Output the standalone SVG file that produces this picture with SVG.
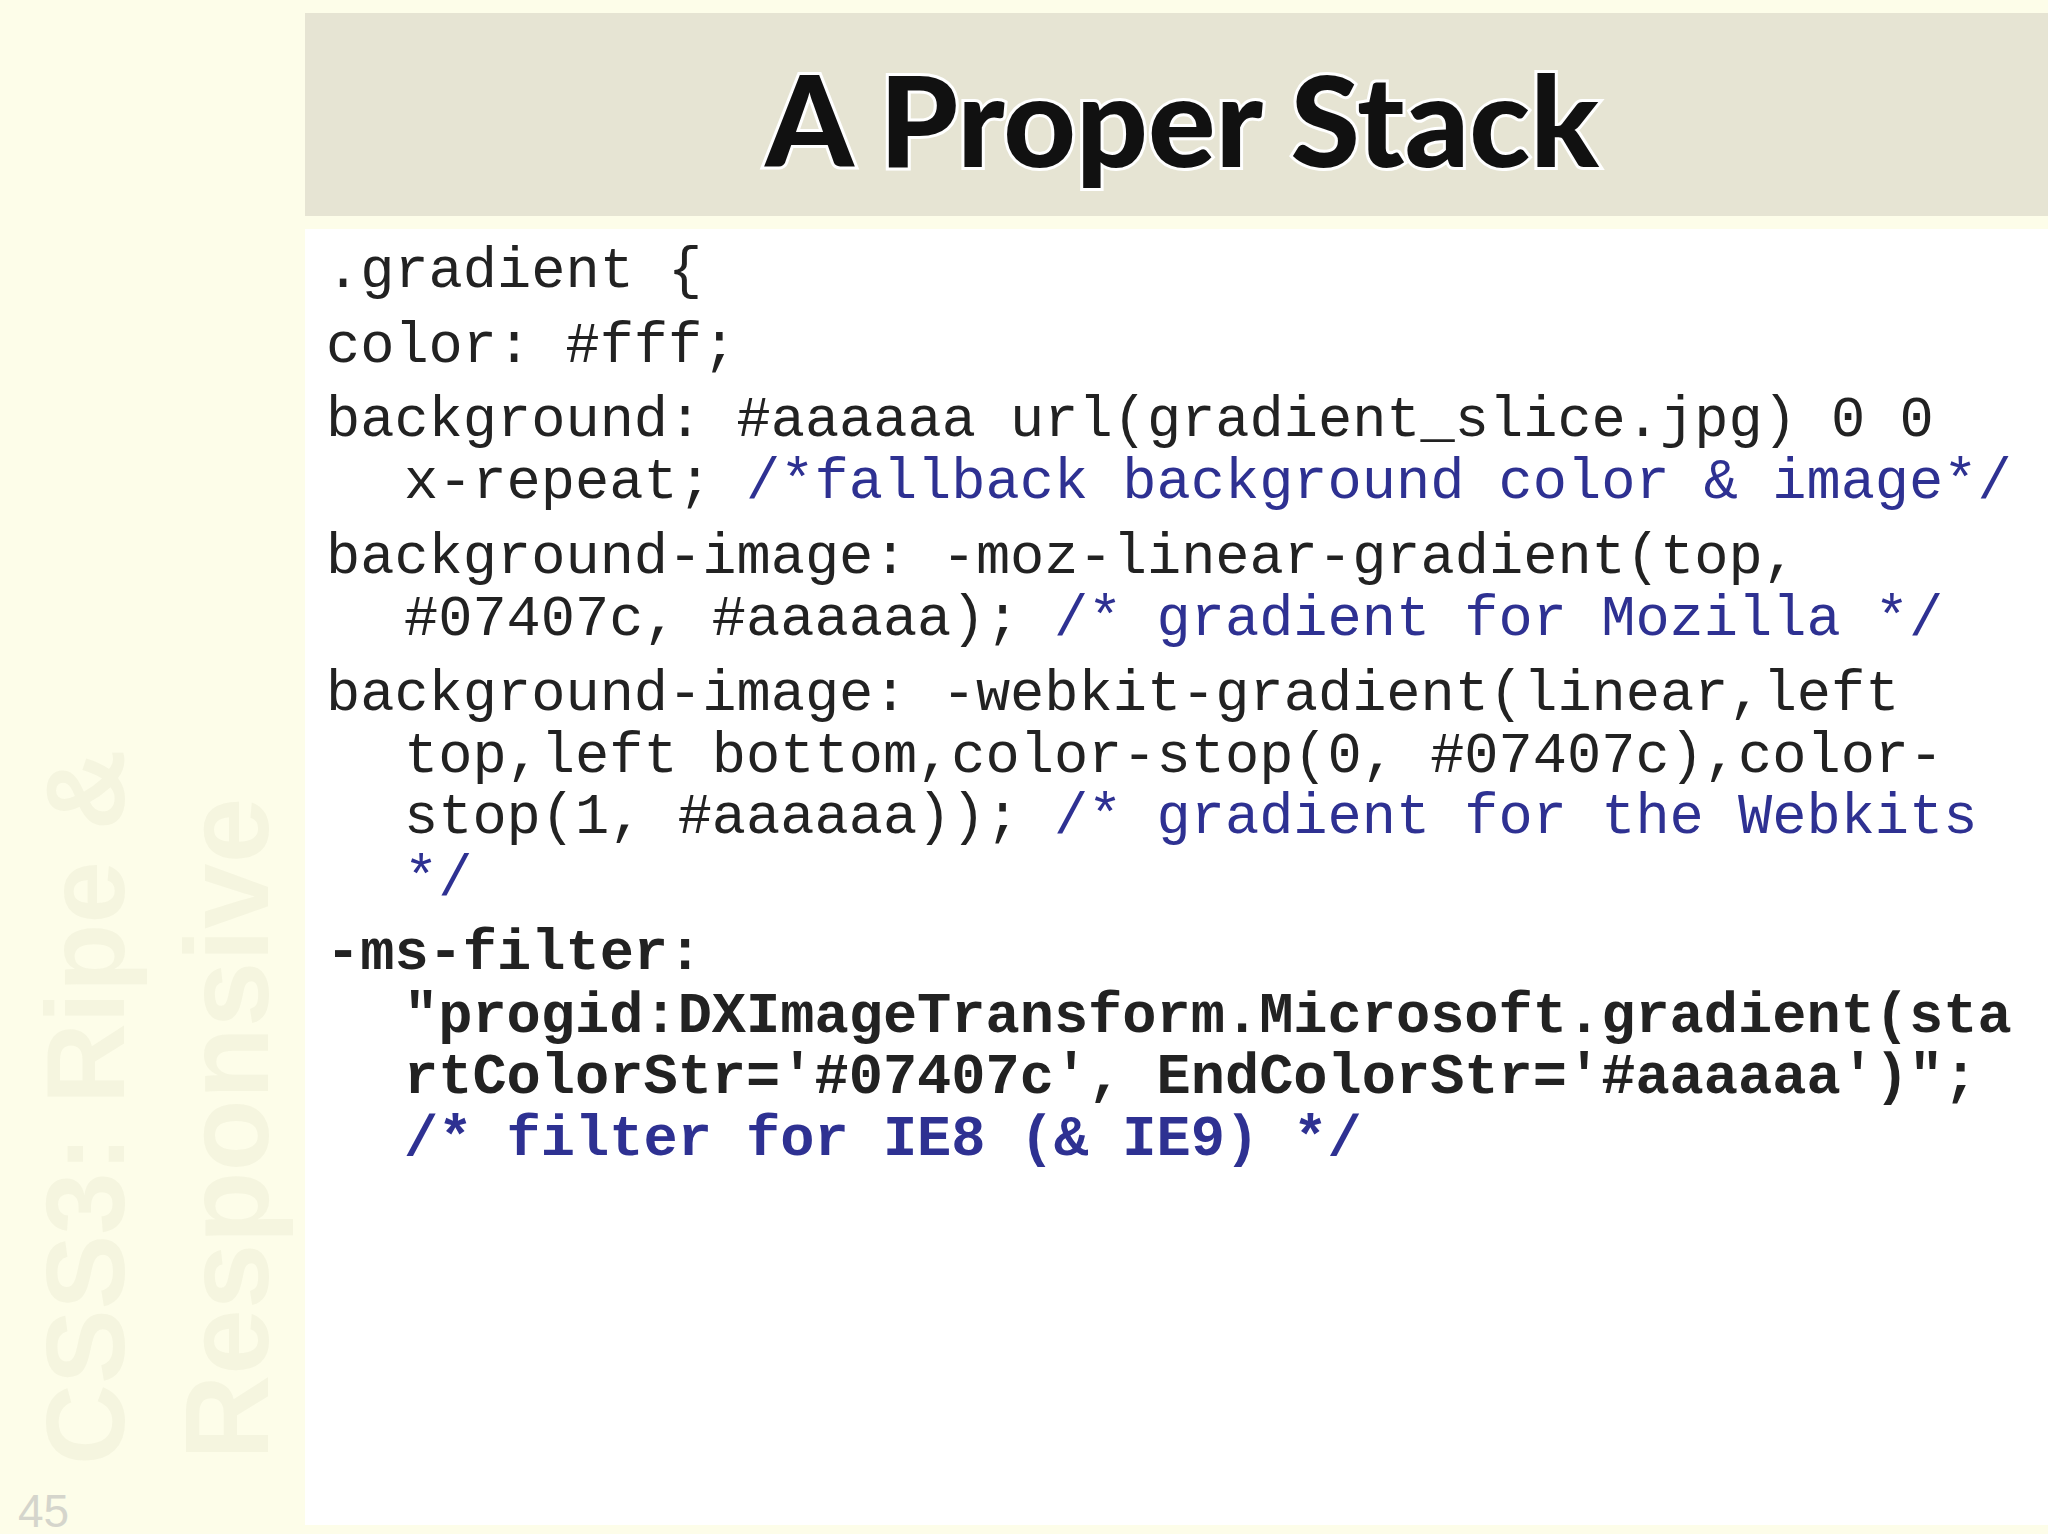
<svg xmlns="http://www.w3.org/2000/svg" width="2048" height="1534" viewBox="0 0 2048 1534">
<style>
.c{font-family:"Liberation Mono","Courier New",monospace;font-size:57px;fill:#222;white-space:pre}
.m{fill:#2e3192}
.b{font-weight:bold}
</style>
<rect width="2048" height="1534" fill="#fdfde9"/>
<rect x="305" y="229" width="1743" height="1296" fill="#ffffff"/>
<rect x="305" y="13" width="1743" height="203" fill="#e6e4d3"/>
<g id="side" font-family="Liberation Sans, Arial, sans-serif" font-weight="bold" fill="#f5f5df">
<text transform="translate(124,1465) rotate(-90)" font-size="112">CSS3: Ripe &amp;</text>
<text transform="translate(268,1460) rotate(-90)" font-size="118">Responsive</text>
<text x="18" y="1527" font-size="46" font-weight="normal" fill="#d5d5cc">45</text>
</g>
<g id="title">
<text x="1182" y="167" text-anchor="middle" font-family="Lato, sans-serif" font-weight="900" font-size="126" fill="#111" stroke="#fff" stroke-width="6" paint-order="stroke">A Proper Stack</text>
</g>
<g id="code" class="c">
<text x="326" y="287">.gradient {</text>
<text x="326" y="362">color: #fff;</text>
<text x="326" y="436">background: #aaaaaa url(gradient_slice.jpg) 0 0</text>
<text x="404" y="498">x-repeat; <tspan class="m">/*fallback background color &amp; image*/</tspan></text>
<text x="326" y="573">background-image: -moz-linear-gradient(top,</text>
<text x="404" y="635">#07407c, #aaaaaa); <tspan class="m">/* gradient for Mozilla */</tspan></text>
<text x="326" y="710">background-image: -webkit-gradient(linear,left</text>
<text x="404" y="772">top,left bottom,color-stop(0, #07407c),color-</text>
<text x="404" y="833">stop(1, #aaaaaa)); <tspan class="m">/* gradient for the Webkits</tspan></text>
<text x="404" y="895" class="m">*/</text>
<text x="326" y="969" class="b">-ms-filter:</text>
<text x="404" y="1032" class="b">"progid:DXImageTransform.Microsoft.gradient(sta</text>
<text x="404" y="1093" class="b">rtColorStr='#07407c', EndColorStr='#aaaaaa')";</text>
<text x="404" y="1155" class="b m">/* filter for IE8 (&amp; IE9) */</text>
</g>
</svg>
